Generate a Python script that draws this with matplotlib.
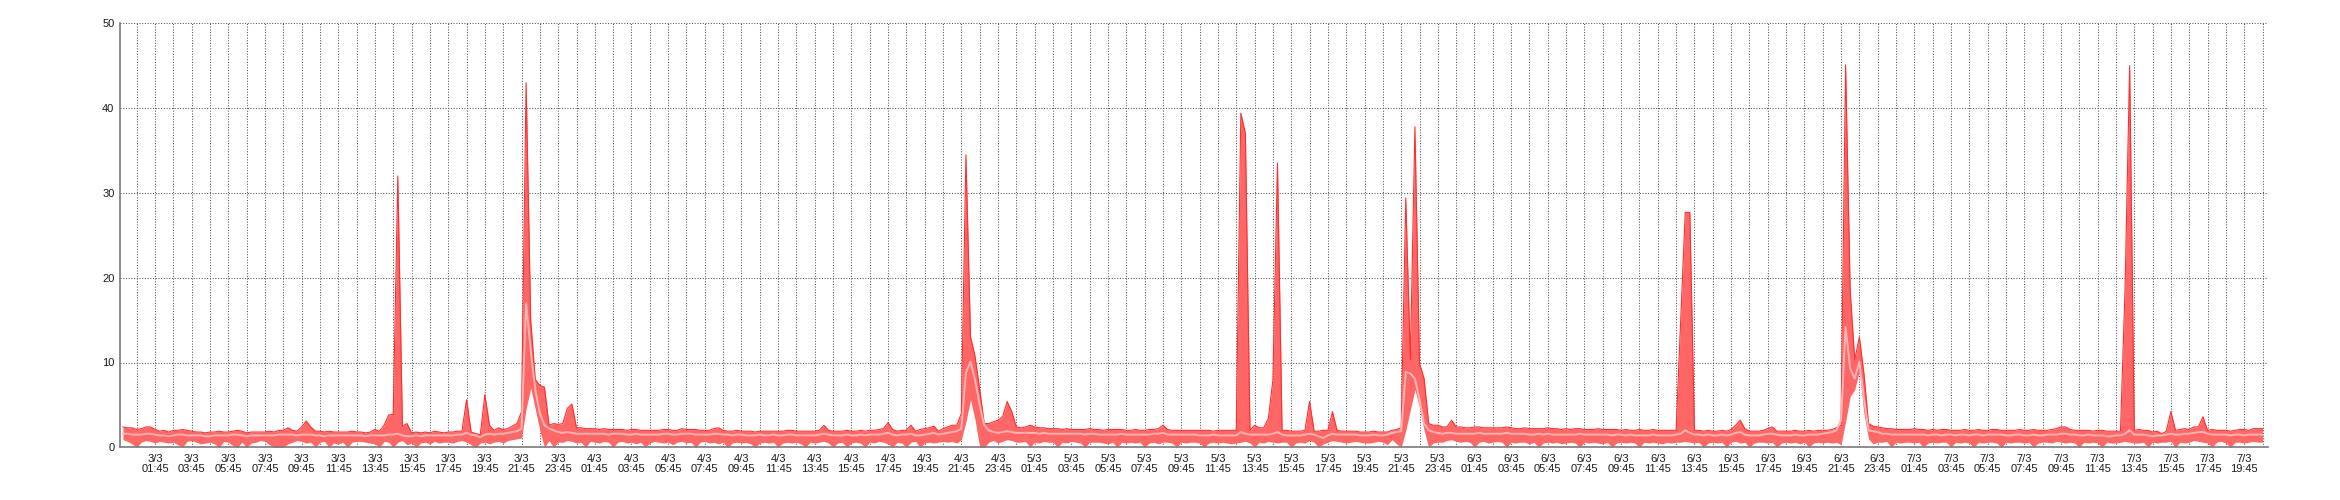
import numpy as np
import matplotlib
matplotlib.use('Agg')
import matplotlib.pyplot as plt

# 15-minute samples, one list per day (max / avg / min)
days = ['3/3', '4/3', '5/3', '6/3', '7/3']
label_minute = 45

mx_0303 = [2.4, 2.3, 2.3, 2.1, 2.2, 2.4, 2.4, 2.1,
           1.9, 2.0, 1.8, 2.0, 2.0, 2.1, 2.0, 1.9,
           1.8, 1.8, 1.7, 1.8, 1.8, 1.9, 1.8, 1.8,
           1.9, 2.0, 1.9, 1.7, 1.8, 1.8, 1.8, 1.8,
           1.9, 1.8, 2.0, 2.0, 2.3, 2.0, 1.9, 2.4,
           3.1, 2.4, 1.9, 1.9, 1.8, 1.9, 1.8, 1.8,
           1.8, 1.8, 1.9, 1.8, 1.8, 1.7, 1.8, 2.1,
           1.9, 2.6, 3.8, 3.9, 32.0, 2.5, 2.8, 1.7,
           1.8, 1.7, 1.8, 1.7, 1.9, 1.8, 1.7, 1.8,
           1.8, 1.9, 1.9, 5.6, 1.8, 1.6, 1.5, 6.2,
           2.6, 2.0, 2.3, 2.1, 2.2, 2.5, 2.8, 4.2,
           43.0, 15.0, 8.0, 7.3, 7.1, 2.6, 2.8, 2.7]
av_0303 = [1.6, 1.6, 1.5, 1.5, 1.5, 1.6, 1.6, 1.5,
           1.4, 1.4, 1.3, 1.4, 1.5, 1.5, 1.4, 1.4,
           1.4, 1.4, 1.3, 1.3, 1.4, 1.4, 1.4, 1.4,
           1.5, 1.5, 1.4, 1.3, 1.4, 1.4, 1.4, 1.4,
           1.4, 1.4, 1.5, 1.5, 1.5, 1.5, 1.4, 1.5,
           1.5, 1.5, 1.4, 1.4, 1.3, 1.4, 1.4, 1.4,
           1.4, 1.4, 1.4, 1.4, 1.4, 1.3, 1.4, 1.4,
           1.4, 1.4, 1.5, 1.5, 1.6, 1.4, 1.3, 1.3,
           1.4, 1.3, 1.4, 1.4, 1.4, 1.4, 1.4, 1.4,
           1.4, 1.5, 1.5, 1.7, 1.5, 1.4, 1.2, 1.5,
           1.6, 1.5, 1.6, 1.6, 1.7, 1.8, 1.9, 2.2,
           17.0, 11.5, 6.8, 4.0, 2.6, 2.2, 2.0, 1.8]
mn_0303 = [0.9, 0.7, 0.4, 0.0, 0.6, 0.8, 0.7, 0.5,
           0.7, 0.6, 0.5, 0.6, 0.3, 0.0, 0.7, 0.8,
           0.6, 0.4, 0.5, 0.6, 0.4, 0.0, 0.7, 0.6,
           0.2, 0.0, 0.6, 0.0, 0.5, 0.6, 0.8, 0.7,
           0.3, 0.0, 0.0, 0.0, 0.4, 0.6, 0.8, 0.7,
           0.5, 0.6, 0.0, 0.6, 0.7, 0.0, 0.5, 0.4,
           0.6, 0.0, 0.6, 0.7, 0.7, 0.6, 0.5, 0.4,
           0.0, 0.7, 0.6, 0.0, 0.6, 0.8, 0.3, 0.5,
           0.0, 0.5, 0.6, 0.4, 0.7, 0.5, 0.6, 0.6,
           0.5, 0.7, 0.8, 0.6, 0.3, 0.0, 0.5, 0.6,
           0.4, 0.6, 0.7, 0.5, 0.8, 0.9, 1.0, 1.1,
           4.5, 7.0, 4.5, 2.0, 0.0, 0.8, 0.0, 0.6]

mx_0403 = [2.8, 4.6, 5.1, 2.3, 2.3, 2.2, 2.2, 2.2,
           2.1, 2.2, 2.1, 2.1, 2.1, 2.1, 2.0, 2.1,
           2.1, 2.0, 2.0, 2.0, 2.0, 2.0, 2.1, 2.1,
           2.0, 2.0, 2.2, 2.1, 2.1, 2.1, 2.0, 2.0,
           2.0, 2.2, 2.3, 2.0, 1.9, 1.9, 2.0, 1.9,
           1.9, 1.9, 1.8, 1.9, 1.9, 1.9, 1.9, 1.9,
           1.9, 2.0, 2.0, 1.9, 1.9, 1.9, 1.9, 1.9,
           2.0, 2.6, 2.0, 1.9, 1.9, 1.9, 2.0, 1.9,
           1.9, 2.0, 1.9, 2.0, 2.0, 2.1, 2.2, 2.9,
           2.1, 1.9, 2.0, 2.0, 2.6, 1.9, 2.1, 2.2,
           2.3, 2.5, 1.9, 2.2, 2.4, 2.6, 2.6, 4.0,
           34.5, 13.0, 10.7, 6.8, 2.8, 2.8, 3.0, 3.2]
av_0403 = [1.7, 1.8, 1.7, 1.6, 1.6, 1.6, 1.6, 1.6,
           1.6, 1.6, 1.5, 1.6, 1.6, 1.6, 1.5, 1.5,
           1.6, 1.5, 1.5, 1.5, 1.5, 1.5, 1.6, 1.6,
           1.5, 1.5, 1.6, 1.6, 1.6, 1.5, 1.5, 1.5,
           1.5, 1.6, 1.6, 1.5, 1.5, 1.4, 1.5, 1.5,
           1.4, 1.4, 1.4, 1.5, 1.4, 1.4, 1.5, 1.4,
           1.4, 1.5, 1.5, 1.4, 1.4, 1.4, 1.4, 1.4,
           1.5, 1.6, 1.5, 1.4, 1.4, 1.4, 1.5, 1.4,
           1.4, 1.5, 1.4, 1.5, 1.5, 1.5, 1.6, 1.7,
           1.5, 1.4, 1.5, 1.5, 1.6, 1.4, 1.4, 1.5,
           1.6, 1.7, 1.5, 1.6, 1.7, 1.8, 1.9, 2.2,
           8.8, 10.1, 7.9, 5.0, 2.6, 2.0, 1.8, 1.7]
mn_0403 = [0.6, 0.8, 0.7, 0.5, 0.6, 0.0, 0.7, 0.6,
           0.5, 0.7, 0.6, 0.0, 0.6, 0.7, 0.5, 0.6,
           0.4, 0.6, 0.0, 0.5, 0.7, 0.6, 0.5, 0.6,
           0.3, 0.6, 0.7, 0.5, 0.6, 0.0, 0.6, 0.7,
           0.5, 0.6, 0.4, 0.6, 0.0, 0.5, 0.6, 0.5,
           0.6, 0.4, 0.0, 0.5, 0.6, 0.5, 0.6, 0.0,
           0.5, 0.6, 0.5, 0.6, 0.4, 0.0, 0.6, 0.5,
           0.6, 0.7, 0.5, 0.0, 0.5, 0.6, 0.0, 0.5,
           0.6, 0.5, 0.0, 0.6, 0.5, 0.7, 0.6, 0.4,
           0.0, 0.6, 0.5, 0.0, 0.6, 0.7, 0.0, 0.5,
           0.6, 0.5, 0.6, 0.7, 0.6, 0.7, 0.5, 0.9,
           3.0, 5.6, 3.2, 0.0, 0.0, 0.6, 0.8, 0.5]

mx_0503 = [3.6, 5.4, 4.2, 2.4, 2.3, 2.4, 2.6, 2.4,
           2.3, 2.3, 2.2, 2.2, 2.2, 2.1, 2.2, 2.1,
           2.1, 2.1, 2.1, 2.2, 2.1, 2.1, 2.0, 2.1,
           2.1, 2.1, 2.1, 2.0, 2.0, 2.1, 2.0, 2.0,
           2.1, 2.1, 2.2, 2.6, 2.1, 2.0, 2.0, 2.0,
           2.0, 2.0, 2.0, 2.0, 2.0, 2.0, 1.9, 2.0,
           2.0, 2.0, 2.0, 2.0, 39.4, 37.0, 2.0, 2.6,
           2.3, 2.3, 3.4, 7.9, 33.5, 2.0, 2.0, 1.9,
           1.9, 1.9, 2.0, 5.4, 1.9, 1.9, 2.0, 2.0,
           4.2, 2.0, 1.9, 1.9, 1.9, 1.9, 1.8, 1.8,
           1.8, 1.9, 1.8, 1.8, 1.8, 2.0, 2.1, 2.3,
           29.4, 10.3, 37.8, 9.9, 8.1, 2.8, 2.6, 2.6]
av_0503 = [1.8, 1.9, 1.8, 1.7, 1.7, 1.7, 1.7, 1.7,
           1.6, 1.7, 1.6, 1.6, 1.6, 1.6, 1.6, 1.6,
           1.6, 1.6, 1.5, 1.6, 1.6, 1.5, 1.5, 1.5,
           1.5, 1.5, 1.6, 1.5, 1.5, 1.5, 1.5, 1.5,
           1.5, 1.6, 1.6, 1.7, 1.5, 1.5, 1.5, 1.5,
           1.5, 1.5, 1.5, 1.4, 1.4, 1.4, 1.5, 1.4,
           1.4, 1.4, 1.4, 1.4, 1.8, 1.6, 1.5, 1.5,
           1.5, 1.5, 1.5, 1.6, 1.8, 1.5, 1.4, 1.4,
           1.4, 1.4, 1.5, 1.6, 1.5, 1.3, 1.1, 1.4,
           1.6, 1.5, 1.5, 1.5, 1.5, 1.5, 1.4, 1.4,
           1.4, 1.5, 1.4, 1.4, 1.5, 1.7, 1.8, 1.9,
           8.9, 8.7, 8.1, 5.6, 2.8, 2.0, 1.8, 1.7]
mn_0503 = [0.7, 0.9, 0.8, 0.6, 0.6, 0.7, 0.0, 0.6,
           0.5, 0.7, 0.6, 0.6, 0.0, 0.6, 0.5, 0.7,
           0.6, 0.5, 0.0, 0.6, 0.6, 0.6, 0.5, 0.4,
           0.6, 0.0, 0.6, 0.5, 0.6, 0.5, 0.6, 0.0,
           0.5, 0.6, 0.4, 0.6, 0.6, 0.5, 0.0, 0.6,
           0.5, 0.6, 0.6, 0.5, 0.0, 0.5, 0.6, 0.5,
           0.6, 0.5, 0.4, 0.5, 0.6, 0.7, 0.5, 0.0,
           0.6, 0.5, 0.7, 0.6, 0.5, 0.6, 0.6, 0.0,
           0.5, 0.6, 0.5, 0.8, 0.6, 0.0, 0.4, 0.6,
           0.8, 0.7, 0.6, 0.5, 0.6, 0.7, 0.6, 0.5,
           0.5, 0.6, 0.7, 0.6, 0.3, 0.9, 0.4, 0.0,
           2.0, 4.4, 6.8, 4.7, 2.0, 0.0, 0.5, 0.6]

mx_0603 = [2.4, 2.4, 3.2, 2.4, 2.4, 2.3, 2.3, 2.4,
           2.4, 2.3, 2.3, 2.3, 2.3, 2.3, 2.4, 2.3,
           2.2, 2.2, 2.3, 2.2, 2.2, 2.2, 2.2, 2.3,
           2.2, 2.2, 2.1, 2.2, 2.1, 2.2, 2.2, 2.1,
           2.1, 2.1, 2.2, 2.1, 2.1, 2.1, 2.1, 2.0,
           2.1, 2.0, 2.0, 2.1, 2.0, 2.0, 2.1, 2.0,
           2.0, 2.0, 2.0, 2.0, 14.8, 27.7, 27.7, 2.0,
           2.0, 1.9, 2.0, 1.9, 1.9, 2.0, 1.9, 2.1,
           2.6, 3.2, 2.2, 1.9, 1.9, 1.9, 2.0, 2.2,
           2.4, 1.9, 1.9, 1.9, 1.9, 2.0, 1.9, 1.9,
           2.0, 1.9, 2.0, 2.0, 2.0, 2.1, 2.3, 2.6,
           45.1, 18.5, 10.3, 13.0, 8.7, 2.8, 2.5, 2.4]
av_0603 = [1.6, 1.7, 1.7, 1.6, 1.6, 1.6, 1.6, 1.6,
           1.7, 1.6, 1.6, 1.6, 1.6, 1.6, 1.7, 1.6,
           1.6, 1.6, 1.6, 1.5, 1.5, 1.6, 1.5, 1.6,
           1.5, 1.5, 1.5, 1.5, 1.5, 1.5, 1.6, 1.5,
           1.5, 1.5, 1.5, 1.5, 1.5, 1.4, 1.5, 1.5,
           1.4, 1.5, 1.4, 1.4, 1.4, 1.4, 1.5, 1.4,
           1.4, 1.4, 1.4, 1.5, 1.6, 2.0, 1.7, 1.5,
           1.5, 1.4, 1.5, 1.4, 1.4, 1.5, 1.4, 1.5,
           1.7, 1.8, 1.5, 1.4, 1.4, 1.4, 1.5, 1.6,
           1.6, 1.5, 1.4, 1.4, 1.4, 1.5, 1.4, 1.4,
           1.5, 1.5, 1.5, 1.6, 1.7, 1.8, 2.0, 3.2,
           14.2, 9.3, 8.1, 10.1, 5.8, 2.0, 1.9, 1.8]
mn_0603 = [0.6, 0.8, 0.9, 0.7, 0.6, 0.7, 0.6, 0.0,
           0.6, 0.7, 0.5, 0.6, 0.7, 0.6, 0.0, 0.6,
           0.5, 0.6, 0.6, 0.4, 0.6, 0.0, 0.5, 0.6,
           0.5, 0.6, 0.4, 0.5, 0.6, 0.5, 0.0, 0.6,
           0.5, 0.6, 0.5, 0.4, 0.6, 0.0, 0.5, 0.6,
           0.5, 0.6, 0.5, 0.0, 0.6, 0.5, 0.6, 0.5,
           0.4, 0.6, 0.5, 0.6, 0.6, 0.7, 0.6, 0.5,
           0.6, 0.0, 0.5, 0.6, 0.5, 0.6, 0.0, 0.6,
           0.7, 0.5, 0.6, 0.0, 0.5, 0.6, 0.6, 0.5,
           0.6, 0.0, 0.5, 0.6, 0.5, 0.6, 0.4, 0.6,
           0.0, 0.5, 0.6, 0.5, 0.6, 0.5, 0.6, 0.3,
           3.0, 6.0, 6.8, 9.0, 4.0, 1.0, 0.4, 0.6]

mx_0703 = [2.3, 2.2, 2.2, 2.1, 2.1, 2.1, 2.1, 2.2,
           2.1, 2.1, 2.0, 2.1, 2.0, 2.1, 2.1, 2.0,
           2.0, 2.0, 2.1, 2.0, 2.0, 2.1, 2.0, 2.0,
           2.1, 2.1, 2.0, 2.0, 2.0, 2.0, 2.1, 2.0,
           2.0, 2.1, 2.0, 2.0, 2.0, 2.1, 2.2, 2.4,
           2.4, 2.1, 2.0, 2.0, 2.0, 2.0, 1.9, 2.0,
           2.0, 1.9, 1.9, 1.9, 1.9, 18.7, 45.0, 2.0,
           2.1, 2.0, 2.0, 1.8, 1.9, 1.6, 1.9, 4.2,
           2.0, 2.1, 2.2, 2.1, 2.4, 2.4, 3.6, 2.0,
           2.1, 2.0, 2.0, 2.0, 1.9, 2.0, 2.1, 2.1,
           2.0, 2.2, 2.2, 2.2]
av_0703 = [1.6, 1.6, 1.5, 1.5, 1.5, 1.5, 1.5, 1.5,
           1.5, 1.5, 1.4, 1.5, 1.5, 1.4, 1.5, 1.5,
           1.4, 1.5, 1.5, 1.4, 1.5, 1.5, 1.4, 1.5,
           1.5, 1.5, 1.5, 1.4, 1.4, 1.5, 1.5, 1.4,
           1.4, 1.5, 1.4, 1.4, 1.5, 1.5, 1.5, 1.6,
           1.6, 1.5, 1.5, 1.4, 1.4, 1.5, 1.4, 1.4,
           1.4, 1.3, 1.3, 1.4, 1.4, 1.6, 2.0, 1.5,
           1.5, 1.5, 1.4, 1.3, 1.4, 1.4, 1.5, 1.6,
           1.5, 1.5, 1.6, 1.6, 1.7, 1.8, 1.8, 1.6,
           1.5, 1.5, 1.5, 1.5, 1.4, 1.5, 1.5, 1.4,
           1.5, 1.5, 1.5, 1.5]
mn_0703 = [0.6, 0.7, 0.0, 0.6, 0.5, 0.6, 0.6, 0.5,
           0.6, 0.0, 0.5, 0.6, 0.5, 0.6, 0.6, 0.0,
           0.6, 0.5, 0.6, 0.5, 0.0, 0.6, 0.5, 0.6,
           0.6, 0.5, 0.0, 0.6, 0.5, 0.6, 0.6, 0.5,
           0.6, 0.0, 0.5, 0.6, 0.6, 0.5, 0.7, 0.6,
           0.5, 0.6, 0.5, 0.0, 0.6, 0.5, 0.6, 0.5,
           0.0, 0.6, 0.5, 0.5, 0.6, 0.7, 0.6, 0.5,
           0.5, 0.6, 0.0, 0.6, 0.5, 0.6, 0.6, 0.7,
           0.0, 0.6, 0.5, 0.6, 0.8, 0.7, 0.6, 0.5,
           0.0, 0.6, 0.7, 0.5, 0.0, 0.6, 0.6, 0.5,
           0.6, 0.7, 0.6, 0.6]


def main():
    mx = np.array(mx_0303 + mx_0403 + mx_0503 + mx_0603 + mx_0703)
    av = np.array(av_0303 + av_0403 + av_0503 + av_0603 + av_0703)
    mn = np.array(mn_0303 + mn_0403 + mn_0503 + mn_0603 + mn_0703)
    assert len(mx) == len(av) == len(mn)

    # hours since 3/3 00:00
    t = np.arange(len(mx)) * 0.25
    t_end = t[-1]

    fig = plt.figure(figsize=(23.4, 5), dpi=100)
    ax = fig.add_axes([120 / 2340, 52.7 / 500, 2148 / 2340, 424 / 500])

    ax.fill_between(t, mn, mx, color='#ff6666', lw=0, zorder=2)
    ax.plot(t, mx, color='#ff2f2f', lw=0.8, zorder=3)
    ax.plot(t, av, color='#ffb4b4', lw=1.4, zorder=4)

    # labels every 2 h at :45, grid every hour at :45
    off = label_minute / 60
    major = np.arange(1 + off, t_end, 2)
    minor = np.arange(off, t_end + 0.01, 1)
    labels = ['%s\n%02d:%02d' % (days[int(h // 24)], int(h % 24), label_minute)
              for h in major]
    ax.set_xticks(major)
    ax.set_xticklabels(labels, fontsize=8, family='Liberation Sans',
                       color='#1a1a1a', linespacing=0.95)
    ax.set_xticks(minor, minor=True)
    ax.set_xlim(-0.16, 117.05)

    ax.set_ylim(0, 50)
    ax.set_yticks(np.arange(0, 51, 10))
    for lab in ax.get_yticklabels():
        lab.set_fontsize(8)
        lab.set_family('Liberation Sans')
        lab.set_color('#1a1a1a')

    ax.tick_params(axis='both', which='both', length=0)
    ax.tick_params(axis='x', pad=5)
    ax.tick_params(axis='y', pad=4)

    ax.set_axisbelow(True)
    grid_style = dict(color='#555555', lw=0.75, linestyle=(0, (1, 1.6)))
    ax.grid(True, axis='x', which='both', **grid_style)
    ax.grid(True, axis='y', which='major', **grid_style)

    for side in ('top', 'right'):
        ax.spines[side].set_visible(False)
    for side in ('left', 'bottom'):
        ax.spines[side].set_color('#7a7a7a')
        ax.spines[side].set_linewidth(1.2)

    fig.savefig('out.png', dpi=100, facecolor='white')


if __name__ == '__main__':
    main()
